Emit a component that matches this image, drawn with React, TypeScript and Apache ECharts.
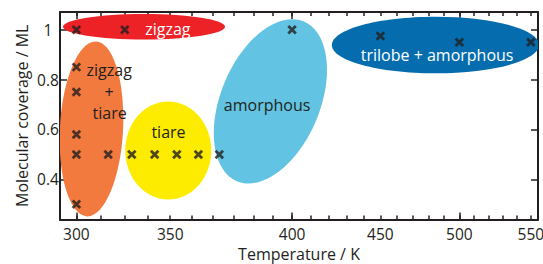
import React, { useEffect, useRef } from 'react';
import * as echarts from 'echarts';

const FONT = '"Open Sans", "Noto Sans", sans-serif';
const INK = '#231f20';

// Measured points: temperature (K) and molecular coverage (ML)
const pointTemps = [300, 320, 300, 300, 300, 300, 313, 323, 333, 343, 353, 363, 300, 400, 450, 500, 550];
const pointCoverages = [1.0, 1.0, 0.85, 0.75, 0.58, 0.5, 0.5, 0.5, 0.5, 0.5, 0.5, 0.5, 0.3, 1.0, 0.975, 0.95, 0.95];

// Phase regions (ellipses) in data space: centre T (K), centre coverage, half-width (in ln T), half-height (ML), tilt (deg)
const regionTemps = [328.3, 306.1, 339.1, 388.6, 484.3];
const regionCoverages = [1.012, 0.602, 0.5154, 0.7128, 0.9386];
const regionHalfWidthsLnT = [0.1081, 0.0421, 0.0574, 0.0661, 0.1382];
const regionHalfHeights = [0.051, 0.351, 0.1966, 0.347, 0.1135];
const regionTilts = [0, -3, 0, -22.7, 0];
const regionColors = ['#ec2227', '#f37a3e', '#fdec00', '#62c3e2', '#056dae'];

// Region labels
const labelTexts = ['zigzag', 'zigzag', '+', 'tiare', 'tiare', 'amorphous', 'trilobe + amorphous'];
const labelTemps = [338.9, 313.4, 313.4, 313.6, 339.2, 386.9, 485.4];
const labelCoverages = [1.003, 0.838, 0.751, 0.665, 0.588, 0.698, 0.8985];
const labelColors = ['#ffffff', INK, INK, INK, INK, INK, '#ffffff'];

// Axes (temperature axis is logarithmic)
const xMin = 293.5;
const xMax = 555.3;
const yMin = 0.239;
const yMax = 1.071;
const xMajorTickTemps = [300, 400, 500];
const xMinorTickTemps = [300, 310, 320, 330, 340, 350, 360, 370, 380, 390, 400, 410, 420, 430, 440, 450, 460, 470, 480, 490, 500, 510, 520, 530, 540, 550];
const xTickLabels = ['300', '350', '400', '450', '500', '550'];
// the source figure prints "350" under the 340 K tick
const xTickLabelTemps = [300, 340, 400, 450, 500, 550];
const yTicks = [0.4, 0.6, 0.8, 1.0];

const lnT = (t: number) => Math.log(t);

export default function App() {
  const ref = useRef<HTMLDivElement>(null);

  useEffect(() => {
    if (!ref.current) return;
    const chart = echarts.init(ref.current, undefined, { renderer: 'svg' });

    const axisLine = { show: true, onZero: false, lineStyle: { color: INK, width: 2 } };
    const tickStyle = { color: INK, width: 1.5 };
    const textStyle = { color: INK, fontSize: 16, fontFamily: FONT };
    const tickTextStyle = { color: INK, fontSize: 15.5, fontFamily: FONT };

    const xBase = (position: string) => ({
      type: 'value',
      position,
      min: lnT(xMin),
      max: lnT(xMax),
      splitLine: { show: false },
    });

    const option: any = {
      animation: false,
      grid: { left: 60, right: 5, top: 12, bottom: 44.5, outerBoundsMode: 'none' },
      xAxis: [
        {
          ...xBase('bottom'),
          axisLine,
          axisTick: { show: true, inside: true, length: 7, lineStyle: tickStyle, customValues: xMajorTickTemps.map(lnT) },
          axisLabel: {
            ...tickTextStyle,
            margin: 6,
            customValues: xTickLabelTemps.map(lnT),
            formatter: (v: number) => {
              let best = 0;
              xTickLabelTemps.forEach((t, i) => {
                if (Math.abs(lnT(t) - v) < Math.abs(lnT(xTickLabelTemps[best]) - v)) best = i;
              });
              return xTickLabels[best];
            },
          },
          name: 'Temperature / K',
          nameLocation: 'middle',
          nameGap: 24,
          nameTextStyle: textStyle,
        },
        {
          ...xBase('bottom'),
          axisLine: { show: false },
          axisTick: { show: true, inside: true, length: 4, lineStyle: tickStyle, customValues: xMinorTickTemps.map(lnT) },
          axisLabel: { show: false },
        },
        {
          ...xBase('top'),
          axisLine,
          axisTick: { show: true, inside: true, length: 7, lineStyle: tickStyle, customValues: xMajorTickTemps.map(lnT) },
          axisLabel: { show: false },
        },
        {
          ...xBase('top'),
          axisLine: { show: false },
          axisTick: { show: true, inside: true, length: 4, lineStyle: tickStyle, customValues: xMinorTickTemps.map(lnT) },
          axisLabel: { show: false },
        },
      ],
      yAxis: [
        {
          type: 'value',
          position: 'left',
          min: yMin,
          max: yMax,
          splitLine: { show: false },
          axisLine,
          axisTick: { show: true, inside: true, length: 7, lineStyle: tickStyle, customValues: yTicks },
          axisLabel: {
            ...tickTextStyle,
            align: 'center',
            margin: 12,
            customValues: yTicks,
            formatter: (v: number) => String(Number(v.toFixed(1))),
          },
          name: 'Molecular coverage / ML',
          nameLocation: 'middle',
          nameGap: 30,
          nameMoveOverlap: false,
          nameTextStyle: textStyle,
        },
        {
          type: 'value',
          position: 'right',
          min: yMin,
          max: yMax,
          splitLine: { show: false },
          axisLine,
          axisTick: { show: true, inside: true, length: 7, lineStyle: tickStyle, customValues: yTicks },
          axisLabel: { show: false },
        },
      ],
      series: [
        {
          type: 'custom',
          xAxisIndex: 0,
          yAxisIndex: 0,
          clip: true,
          z: 1,
          silent: true,
          data: regionTemps.map((t, i) => [lnT(t), regionCoverages[i], regionHalfWidthsLnT[i], regionHalfHeights[i], regionTilts[i]]),
          renderItem: (params: any, api: any) => {
            const i = params.dataIndex;
            const c = api.coord([api.value(0), api.value(1)]);
            const s = api.size([api.value(2), api.value(3)], [api.value(0), api.value(1)]);
            return {
              type: 'ellipse',
              x: c[0],
              y: c[1],
              rotation: (api.value(4) * Math.PI) / 180,
              shape: { cx: 0, cy: 0, rx: s[0], ry: s[1] },
              style: { fill: regionColors[i] },
            };
          },
        },
        {
          type: 'scatter',
          xAxisIndex: 0,
          yAxisIndex: 0,
          z: 3,
          silent: true,
          symbol: 'path://M0 0L10 10M10 0L0 10',
          symbolSize: 7.5,
          itemStyle: { color: 'rgba(0,0,0,0)', borderColor: INK, borderWidth: 2.8 },
          data: pointTemps.map((t, i) => [lnT(t), pointCoverages[i]]),
        },
        {
          type: 'custom',
          xAxisIndex: 0,
          yAxisIndex: 0,
          clip: false,
          z: 4,
          silent: true,
          data: labelTemps.map((t, i) => [lnT(t), labelCoverages[i]]),
          renderItem: (params: any, api: any) => {
            const i = params.dataIndex;
            const c = api.coord([api.value(0), api.value(1)]);
            return {
              type: 'text',
              x: c[0],
              y: c[1],
              style: {
                text: labelTexts[i],
                fill: labelColors[i],
                fontSize: 16,
                fontFamily: FONT,
                align: 'center',
                verticalAlign: 'middle',
              },
            };
          },
        },
      ],
    };

    chart.setOption(option);
    return () => chart.dispose();
  }, []);

  return (
    <div
      ref={ref}
      style={{ position: 'fixed', left: 0, top: 0, width: 543, height: 264, background: '#ffffff' }}
    />
  );
}
